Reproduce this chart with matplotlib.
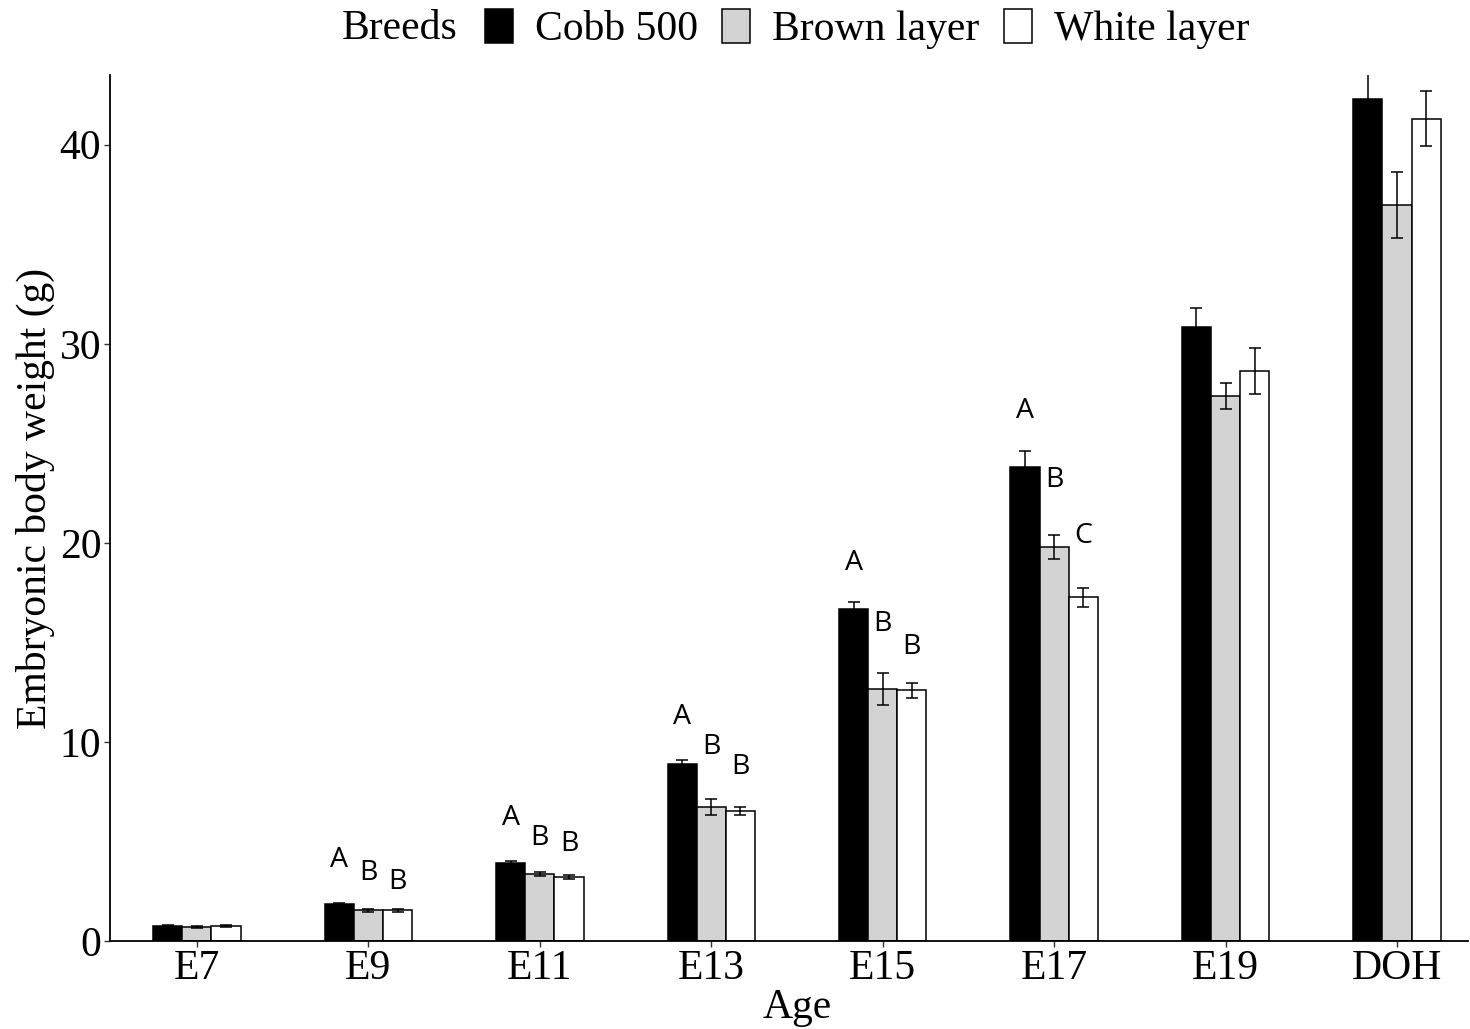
import numpy as np
import matplotlib
matplotlib.use("Agg")
import matplotlib.pyplot as plt
from matplotlib.patches import Patch

# ---- data ----
ages = ["E7", "E9", "E11", "E13", "E15", "E17", "E19", "DOH"]
breeds = ["Cobb 500", "Brown layer", "White layer"]
cobb = [0.75, 1.84, 3.94, 8.89, 16.68, 23.83, 30.82, 42.31]
brown = [0.68, 1.54, 3.35, 6.72, 12.66, 19.78, 27.37, 36.98]
white = [0.75, 1.54, 3.23, 6.55, 12.60, 17.27, 28.64, 41.31]
cobb_se = [0.05, 0.06, 0.10, 0.20, 0.33, 0.80, 0.97, 1.24]
brown_se = [0.05, 0.06, 0.10, 0.41, 0.82, 0.60, 0.64, 1.67]
white_se = [0.05, 0.06, 0.10, 0.20, 0.38, 0.47, 1.17, 1.40]

# significance letters (age index, breed index, letter, y position)
sig_age = [1, 1, 1, 2, 2, 2, 3, 3, 3, 4, 4, 4, 5, 5, 5]
sig_breed = [0, 1, 2, 0, 1, 2, 0, 1, 2, 0, 1, 2, 0, 1, 2]
sig_text = ["A", "B", "B", "A", "B", "B", "A", "B", "B", "A", "B", "B", "A", "B", "C"]
sig_y = [4.07, 3.42, 2.98, 6.17, 5.16, 4.87, 11.27, 9.76, 8.76,
         19.0, 15.93, 14.79, 26.6, 23.17, 20.35]

colors = ["#000000", "#D3D3D3", "#FFFFFF"]

plt.rcParams["font.family"] = ["Liberation Serif", "DejaVu Serif"]

fig = plt.figure(figsize=(14.7, 10.29), dpi=100)
ax = fig.add_axes([110 / 1470, 88 / 1029, 1358 / 1470, 866 / 1029])

x = np.arange(len(ages))
w = 0.17
series = [cobb, brown, white]
errs = [cobb_se, brown_se, white_se]
for i, (vals, se, c) in enumerate(zip(series, errs, colors)):
    xi = x + (i - 1) * w
    ax.bar(xi, vals, width=w, color=c, edgecolor="#000000", linewidth=1.1,
           label=breeds[i], zorder=2)
    ax.errorbar(xi, vals, yerr=se, fmt="none", ecolor="#000000",
                elinewidth=1.1, capsize=4, capthick=1.1, zorder=3)

for a, b, t, yy in zip(sig_age, sig_breed, sig_text, sig_y):
    ax.text(x[a] + (b - 1) * w, yy, t, ha="center", va="center",
            fontsize=20.5, family=["Open Sans", "DejaVu Sans"], color="#000000")

ax.set_xlim(-0.507, 7.414)
ax.set_ylim(0, 43.5)
ax.set_xticks(x)
ax.set_xticklabels(ages)
ax.set_yticks([0, 10, 20, 30, 40])
ax.tick_params(axis="both", labelsize=30, length=4.3, width=1.0,
               color="#333333", pad=2, labelcolor="#000000")
for s in ["top", "right"]:
    ax.spines[s].set_visible(False)
for s in ["left", "bottom"]:
    ax.spines[s].set_linewidth(1.3)
    ax.spines[s].set_color("#000000")

ax.set_xlabel("Age", fontsize=30)
ax.set_ylabel("Embryonic body weight (g)", fontsize=30)
ax.xaxis.set_label_coords((797 - 110) / 1358, -(1008 - 941) / 866, transform=ax.transAxes)
ax.yaxis.set_label_coords(-(110 - 35) / 1358, (941 - 498) / 866, transform=ax.transAxes)
ax.xaxis.label.set_va("center")
ax.yaxis.label.set_va("center")

handles = [Patch(facecolor=c, edgecolor="#000000", linewidth=1.1) for c in colors]
leg = fig.legend(handles, breeds, loc="center", ncol=3,
                 bbox_to_anchor=(867 / 1470, 1 - 29 / 1029), frameon=False,
                 fontsize=30, handlelength=0.67, handleheight=0.89,
                 handletextpad=0.53, columnspacing=0.58, borderpad=0,
                 borderaxespad=0)
fig.text(458 / 1470, 1 - 29 / 1029, "Breeds", ha="right", va="center", fontsize=30)

fig.savefig("out.png", dpi=100)
